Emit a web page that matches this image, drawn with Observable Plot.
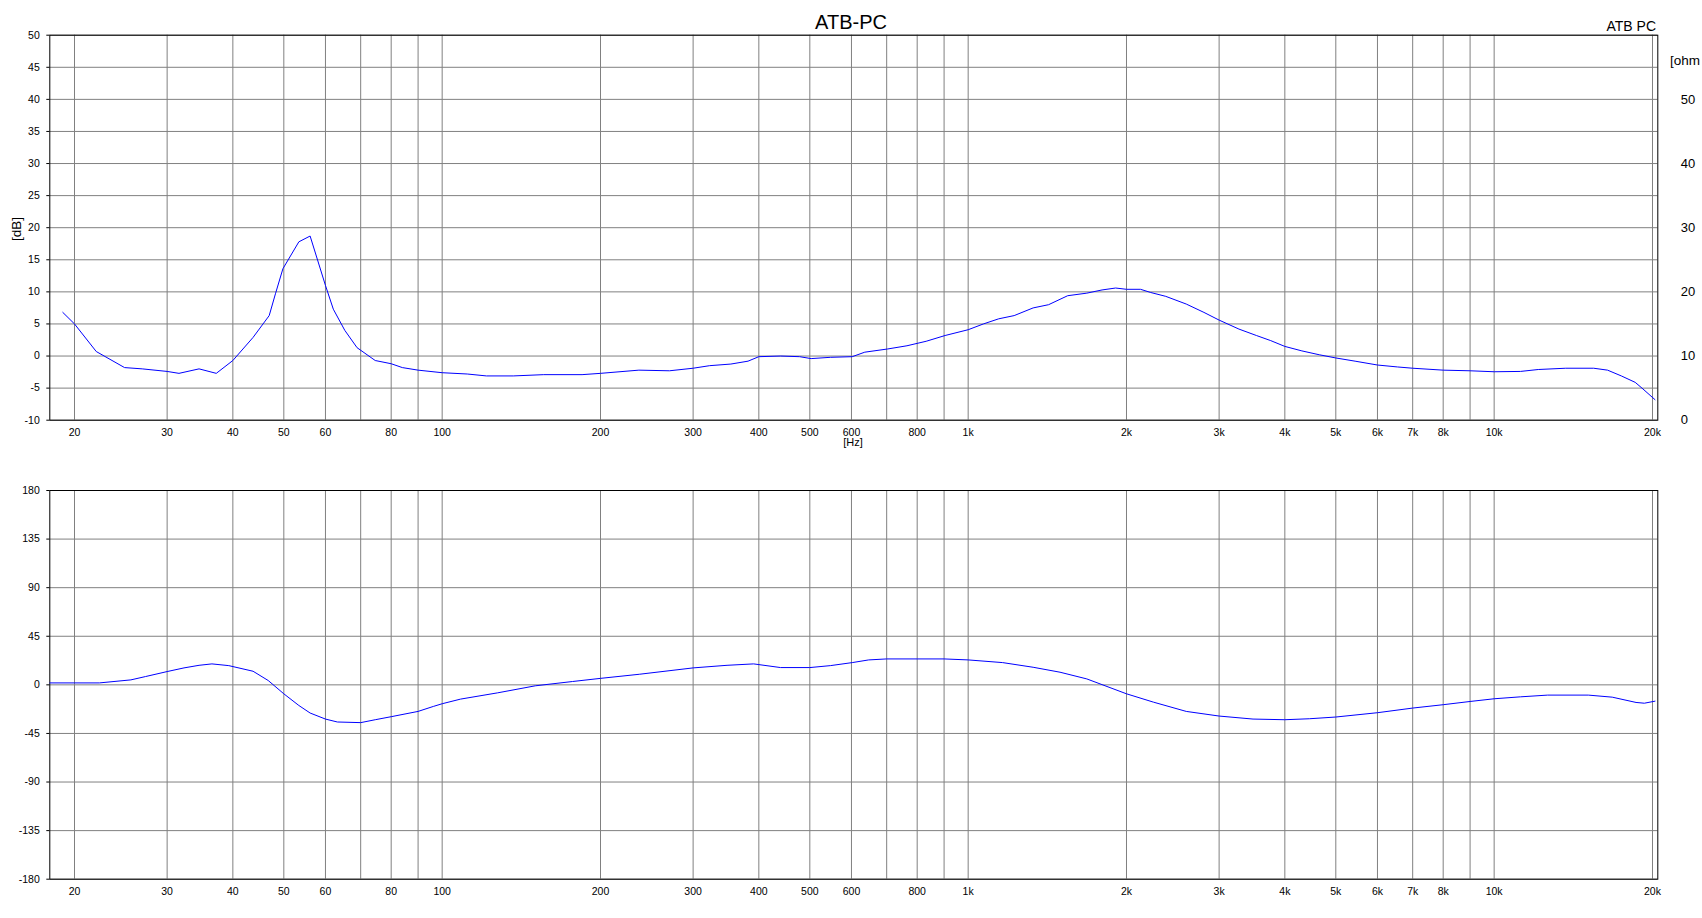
<!DOCTYPE html>
<html>
<head>
<meta charset="utf-8">
<script src="https://cdn.jsdelivr.net/npm/d3@7"></script>
<script src="https://cdn.jsdelivr.net/npm/@observablehq/plot@0.6"></script>
<style>
  html, body { margin: 0; padding: 0; background: #fff; overflow: hidden; }
  #wrap { position: relative; width: 1702px; height: 918px; overflow: hidden; background: #fff; }
  #top, #bottom, #overlay { position: absolute; left: 0; }
  #top { top: 0; }
  #bottom { top: 460px; }
  #overlay { top: 0; pointer-events: none; }
</style>
</head>
<body>
<div id="wrap">
  <div id="top"></div>
  <div id="bottom"></div>
  <div id="overlay"></div>
</div>
<script>
// ---------- data ----------
const gridFreqs = [20,30,40,50,60,70,80,90,100,200,300,400,500,600,700,800,900,1000,2000,3000,4000,5000,6000,7000,8000,9000,10000,20000];
const labelFreqs = [20,30,40,50,60,80,100,200,300,400,500,600,800,1000,2000,3000,4000,5000,6000,7000,8000,10000,20000];
const dbTicks = [-10,-5,0,5,10,15,20,25,30,35,40,45,50];
const ohmTicks = [0,10,20,30,40,50];
const phaseTicks = [-180,-135,-90,-45,0,45,90,135,180];

const magFreq = [19,20,22,24.9,26.9,30,31.6,34.5,37.2,40,43.7,46.9,48.2,49.8,53.4,56.1,60,62.1,65.3,68.9,74.6,80,84,90,100,111.6,121.4,136.5,156,184.5,200,236.6,270.5,300,322.6,353.9,381.5,400,440,478,503,547,602,636,703,765,832,904,1000,1069,1143,1223,1329,1422,1546,1681,1797,1907,2000,2127,2224,2375,2598,2807,3000,3272,3532,3761,4000,4310,4650,5000,5440,6000,6547,7000,8000,9000,10000,11220,12130,13680,15460,16430,17450,18540,19100,20220];
const magDb = [6.8,5.0,0.7,-1.8,-2.0,-2.4,-2.7,-2.0,-2.7,-0.7,2.9,6.3,9.7,13.6,17.8,18.7,11.0,7.3,4.0,1.3,-0.7,-1.2,-1.8,-2.2,-2.6,-2.8,-3.1,-3.1,-2.9,-2.9,-2.7,-2.2,-2.3,-1.9,-1.5,-1.25,-0.8,-0.1,0,-0.1,-0.4,-0.2,-0.1,0.6,1.1,1.6,2.3,3.2,4.1,5.0,5.8,6.3,7.5,8.0,9.4,9.8,10.3,10.6,10.4,10.4,9.9,9.3,8.1,6.8,5.6,4.2,3.2,2.4,1.5,0.8,0.2,-0.3,-0.8,-1.4,-1.7,-1.9,-2.2,-2.3,-2.45,-2.4,-2.1,-1.9,-1.9,-2.2,-3.1,-4.1,-5.0,-6.8];

const phFreq = [17.96,20,22.3,25.6,27.3,30,32.3,34.5,36.5,39.3,43.7,46.7,50,53.4,56.1,60,63.2,70,74.6,80,90,96.2,100,108.4,127.5,150.3,177,200,237,300,348,391,440,500,547,602,647,700,800,900,1000,1163,1329,1495,1681,2000,2250,2598,3000,3480,4000,4452,5000,6000,7000,8000,9000,10000,11220,12640,15100,16770,18610,19300,20220];
const phDeg = [1.8,1.8,1.8,4.6,7.7,12.3,15.7,18.1,19.4,17.8,12.6,4.0,-8.3,-19.1,-26.1,-31.7,-34.4,-35.0,-32.3,-29.5,-24.6,-20.0,-17.5,-13.2,-7.4,-0.9,3.1,6.0,9.8,15.7,18.1,19.4,16.0,16.0,17.8,20.6,23.1,24.0,24.0,24.0,23.1,20.6,16.3,11.7,5.5,-8.3,-16.0,-24.6,-28.9,-31.7,-32.3,-31.4,-29.8,-25.8,-21.5,-18.4,-15.4,-12.9,-11.1,-9.5,-9.5,-11.4,-16.3,-17.0,-15.1];

const titleText = "ATB-PC";
const legendText = "ATB PC";
const ohmLabel = "[ohm";
const dbLabel = "[dB]";
const hzLabel = "[Hz]";

// ---------- chart ----------
const xDomain = [17.95, 20470];
const fmtHz = f => f >= 1000 ? (f / 1000) + "k" : String(f);
const font = "'Liberation Sans', Arial, sans-serif";
const gridColor = "#808080";
const curveColor = "#0000ff";

const magData = magFreq.map((f, i) => ({f, v: magDb[i]}));
const phData = phFreq.map((f, i) => ({f, v: phDeg[i]}));

const common = {
  width: 1702,
  marginLeft: 49.3,
  marginRight: 44.7,
  style: {fontFamily: font, fontSize: "10.5px", color: "#000", background: "#fff"}
};

const xLabels = () => Plot.text(labelFreqs, {
  x: d => d, text: fmtHz, frameAnchor: "bottom", lineAnchor: "top",
  dy: 8, fontSize: 10.5, fill: "#000"
});

const topChart = Plot.plot({
  ...common,
  height: 460,
  marginTop: 34.7,
  marginBottom: 40.3,
  x: {type: "log", domain: xDomain, axis: null},
  y: {domain: [-10, 50]},
  marks: [
    Plot.ruleX(gridFreqs, {stroke: gridColor, strokeOpacity: 1}),
    Plot.ruleY(dbTicks, {stroke: gridColor, strokeOpacity: 1}),
    Plot.frame({stroke: "#000"}),
    Plot.line(magData, {x: "f", y: "v", stroke: curveColor, strokeWidth: 1}),
    xLabels(),
    Plot.axisY({ticks: dbTicks, tickFormat: d => String(d), tickSize: 3, tickPadding: 7, label: null}),
    Plot.axisY({anchor: "right", ticks: ohmTicks.map(o => o - 10), tickFormat: d => String(d + 10), tickSize: 0, tickPadding: 23, fontSize: 13, label: null})
  ]
});
document.getElementById("top").appendChild(topChart);

const bottomChart = Plot.plot({
  ...common,
  height: 458,
  marginTop: 30,
  marginBottom: 39.3,
  x: {type: "log", domain: xDomain, axis: null},
  y: {domain: [-180, 180]},
  marks: [
    Plot.ruleX(gridFreqs, {stroke: gridColor, strokeOpacity: 1}),
    Plot.ruleY(phaseTicks, {stroke: gridColor, strokeOpacity: 1}),
    Plot.frame({stroke: "#000"}),
    Plot.line(phData, {x: "f", y: "v", stroke: curveColor, strokeWidth: 1}),
    xLabels(),
    Plot.axisY({ticks: phaseTicks, tickFormat: d => String(d), tickSize: 3, tickPadding: 7, label: null})
  ]
});
document.getElementById("bottom").appendChild(bottomChart);

// ---------- text labels ----------
const svg = d3.select("#overlay").append("svg")
  .attr("width", 1702).attr("height", 918)
  .style("font-family", font);
svg.append("text").attr("x", 851).attr("y", 29).attr("text-anchor", "middle")
  .attr("font-size", 20).text(titleText);
svg.append("text").attr("x", 1656).attr("y", 30.5).attr("text-anchor", "end")
  .attr("font-size", 14).text(legendText);
svg.append("text").attr("x", 1670).attr("y", 65).attr("font-size", 13.5).text(ohmLabel);
svg.append("text").attr("transform", "translate(20.5,229) rotate(-90)").attr("text-anchor", "middle")
  .attr("font-size", 13.5).text(dbLabel);
svg.append("text").attr("x", 853).attr("y", 446).attr("text-anchor", "middle")
  .attr("font-size", 11).text(hzLabel);
</script>
</body>
</html>
